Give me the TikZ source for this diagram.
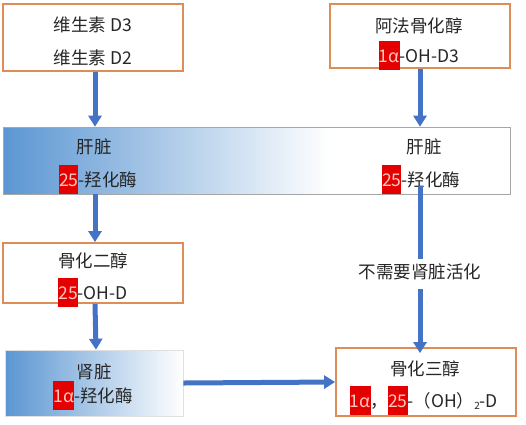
\documentclass[tikz,border=0pt]{standalone}
\usepackage{fontspec}
\setmainfont{Noto Sans CJK SC}
\usetikzlibrary{arrows.meta}
\definecolor{boxorange}{RGB}{222,140,88}
\definecolor{arrowblue}{RGB}{68,114,196}
\definecolor{shadeblue}{RGB}{91,150,210}
\definecolor{hlred}{RGB}{228,0,0}
\definecolor{hltext}{RGB}{255,200,190}
\definecolor{txt}{RGB}{38,38,38}
\newcommand{\hlr}[1]{{\setlength{\fboxsep}{0pt}\smash{\colorbox{hlred}{\rule[-7pt]{0pt}{29pt}\textcolor{hltext}{#1}}}}}
\newcommand{\subtwo}{\raisebox{-2pt}{\fontsize{10}{10}\selectfont 2}}
\tikzset{
  obox/.style={draw=boxorange, line width=1.8pt, fill=white, inner sep=0pt},
  txtline/.style={text=txt, inner sep=0pt, font=\fontsize{17.5}{17.5}\selectfont, text height=12pt, text depth=3pt, yshift=-3pt},
  flow/.style={draw=arrowblue, line width=5pt, -{Triangle[width=13pt,length=11pt]}},
  flowline/.style={draw=arrowblue, line width=5pt},
}
\begin{document}
\begin{tikzpicture}[x=1pt,y=-1pt]
\useasboundingbox (0,0) rectangle (526,424);
% top boxes
\node[obox, minimum width=180pt, minimum height=67pt] (b1) at (93,37.5) {};
\node[txtline] (b1a) at (93,24) {维生素 D3};
\node[txtline] (b1b) at (93,57) {维生素 D2};
\node[obox, minimum width=180pt, minimum height=64pt] (b2) at (420,36) {};
\node[txtline] (b2a) at (419,25) {阿法骨化醇};
\node[txtline] (b2b) at (419,55) {\hlr{1α}-OH-D3};
% liver band
\shade[left color=shadeblue, right color=white] (3,127) rectangle (330,194);
\node[draw=black!35, line width=0.6pt, minimum width=507pt, minimum height=67pt, inner sep=0pt] (band) at (256.5,160.5) {};
\node[txtline] (lLa) at (94,146) {肝脏};
\node[txtline] (lLb) at (98,179) {\hlr{25}-羟化酶};
\node[txtline] (lRa) at (424,146) {肝脏};
\node[txtline] (lRb) at (421,179) {\hlr{25}-羟化酶};
% middle left box
\node[obox, minimum width=180pt, minimum height=60pt] (b3) at (93,273) {};
\node[txtline] (b3a) at (93,260) {骨化二醇};
\node[txtline] (b3b) at (93,292) {\hlr{25}-OH-D};
% kidney box
\shade[left color=shadeblue, right color=white] (5,350) rectangle (183,416);
\node[draw=black!12, line width=0.6pt, minimum width=178pt, minimum height=66pt, inner sep=0pt] (b4) at (94,383) {};
\node[txtline] (b4a) at (94,371) {肾脏};
\node[txtline] (b4b) at (93,395) {\hlr{1α}-羟化酶};
% result box
\node[obox, minimum width=180pt, minimum height=68pt] (b5) at (426,382) {};
\node[txtline] (b5a) at (425,368) {骨化三醇};
\node[txtline] (b5b) at (424,400) {\hlr{1α}，\hlr{25}-（OH）\subtwo-D};
% label
\node[txtline, fill=white, inner xsep=3pt, inner ysep=7.5pt] (note) at (420,271) {不需要肾脏活化};
% connectors
\draw[flow] ([xshift=2pt]b1.south) -- ([xshift=2pt]b1.south |- band.north);
\draw[flow] (b2.south) -- (b2.south |- band.north);
\draw[flow] ([xshift=2pt]b1.south |- band.south) -- ([xshift=2pt]b3.north);
\draw[flowline] ([yshift=8pt]b2.south |- band.south) -- (note.north);
\draw[flow] (note.south) -- ([yshift=-6pt]b2.south |- b5.north);
\draw[flow] ([xshift=2pt]b3.south) -- ([xshift=2pt]b4.north);
\draw[flow] (b4.east) -- (b5.west);
\end{tikzpicture}
\end{document}
